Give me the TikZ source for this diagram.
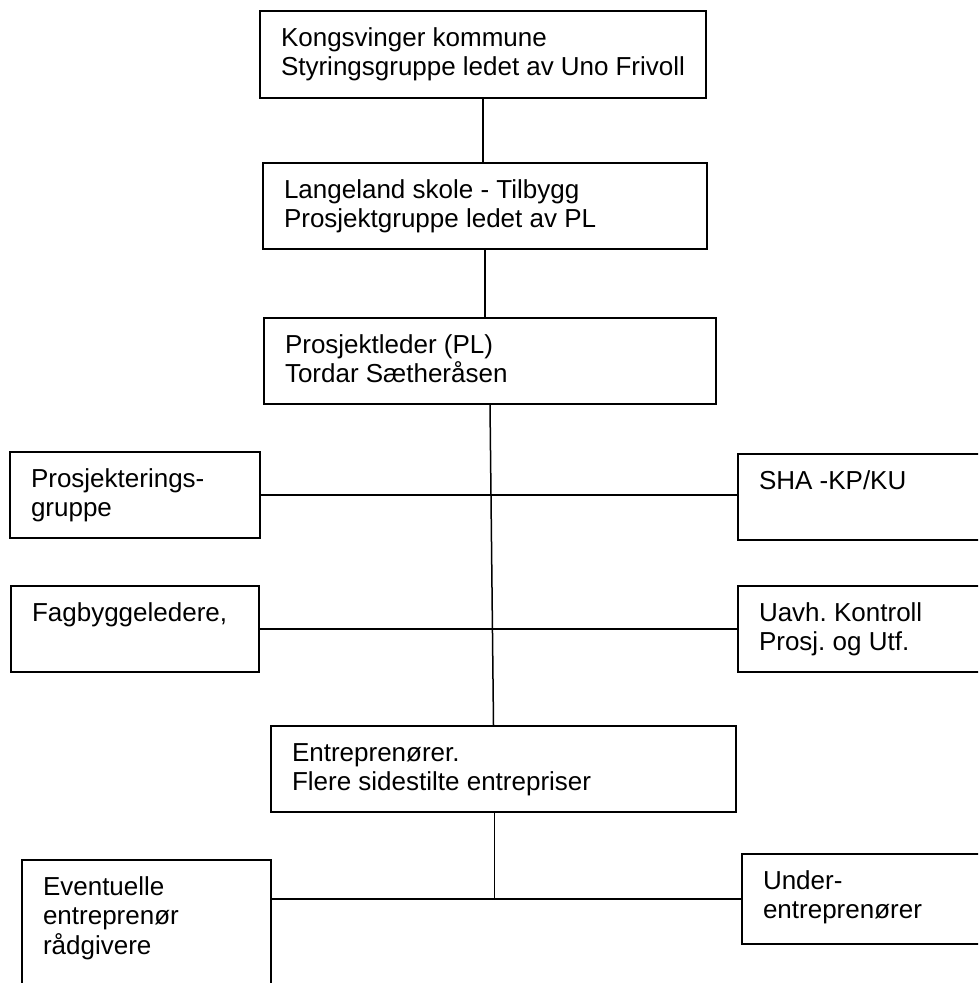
\documentclass[tikz,border=0pt]{standalone}
\usepackage{fontspec}
\setmainfont{Liberation Sans}
\usepackage{tikz}
\usetikzlibrary{calc}
\frenchspacing

\newcommand{\orgtxt}[3]{\parbox[t][#1][t]{#2}{\rule{0pt}{35pt}#3}}

\begin{document}
\begin{tikzpicture}
	[x=1pt,y=-1pt,
	orgbox/.style={draw,line width=2pt,anchor=north west,inner xsep=21pt,inner ysep=0pt,
		font=\fontsize{26}{29.5}\selectfont},
	link/.style={draw,line width=1.5pt}]
	\clip (0,0) rectangle (978,983);
	% ledelse
	\node[orgbox] (styr) at (259,10) {\orgtxt{87pt}{404pt}{Kongsvinger kommune\\Styringsgruppe ledet av Uno Frivoll}};
	\node[orgbox] (pgrp) at (262,162) {\orgtxt{86pt}{402pt}{Langeland skole - Tilbygg\\Prosjektgruppe ledet av PL}};
	\node[orgbox] (pl) at (263,317) {\orgtxt{86pt}{410pt}{Prosjektleder (PL)\\Tordar Sætheråsen}};
	% sidegrupper
	\node[orgbox] (prosj) at (9,451) {\orgtxt{86pt}{208pt}{Prosjekterings-\\gruppe}};
	\node[orgbox] (sha) at (737,453) {\orgtxt{86pt}{240pt}{SHA -KP/KU}};
	\node[orgbox] (fag) at (10,585) {\orgtxt{86pt}{206pt}{Fagbyggeledere,}};
	\node[orgbox] (uavh) at (737,585) {\orgtxt{86pt}{240pt}{Uavh. Kontroll\\Prosj. og Utf.}};
	% utførelse
	\node[orgbox] (ent) at (270,725) {\orgtxt{86pt}{423pt}{Entreprenører.\\Flere sidestilte entrepriser}};
	\node[orgbox] (evt) at (21,859) {\orgtxt{151pt}{207pt}{Eventuelle\\entreprenør\\rådgivere}};
	\node[orgbox] (under) at (741,853) {\orgtxt{90pt}{240pt}{Under-\\entreprenører}};

	\draw[link] (styr.south) -- (styr.south |- pgrp.north);
	\draw[link] (pgrp.south) -- (pgrp.south |- pl.north);
	\draw[link] (pl.south) -- ($(ent.north)+(-10,0)$);
	\draw[link] (prosj.east) -- (prosj.east -| sha.west);
	\draw[link] (fag.east) -- (fag.east -| uavh.west);
	\coordinate (fot) at ($(ent.south)+(-9,0)$);
	\draw[link] (fot) -- (fot |- under.west);
	\draw[link] (under.west -| evt.east) -- (under.west);
\end{tikzpicture}
\end{document}
